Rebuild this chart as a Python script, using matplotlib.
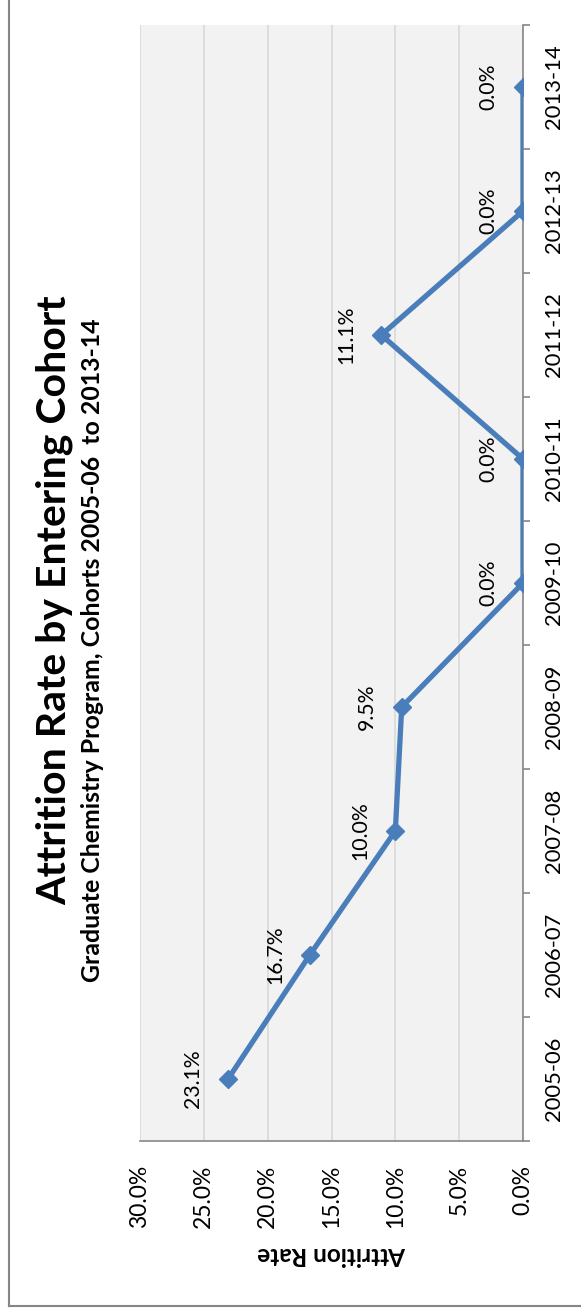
import matplotlib.pyplot as plt
from matplotlib.lines import Line2D
from matplotlib.ticker import FixedLocator

# cohort data
cohorts = ["2005-06", "2006-07", "2007-08", "2008-09", "2009-10",
           "2010-11", "2011-12", "2012-13", "2013-14"]
attrition = [23.1, 16.7, 10.0, 9.5, 0.0, 0.0, 11.1, 0.0, 0.0]
rate_ticks = [0, 5, 10, 15, 20, 25, 30]

line_blue = "#4A7EBB"
axis_gray = "#868686"
grid_gray = "#D9D9D9"

plt.rcParams['font.family'] = ['Lato', 'DejaVu Sans']

W, H = 581, 1313
fig = plt.figure(figsize=(W / 100, H / 100), dpi=100)

# chart is laid out sideways: rate runs right-to-left, cohorts bottom-to-top
left, right, top, bottom = 140, 523, 25, 1141
ax = fig.add_axes([left / W, 1 - bottom / H, (right - left) / W, (bottom - top) / H])
ax.set_facecolor("#F2F2F2")

pos = list(range(len(cohorts)))
ax.plot(attrition, pos, color=line_blue, lw=3.8, marker="D", ms=9.5,
        solid_joinstyle="miter", zorder=3)

for v, p in zip(attrition, pos):
    ax.annotate(f"{v:.1f}%", (v, p), xytext=(-25, 0), textcoords="offset points",
                rotation=90, ha="center", va="center", fontsize=15.3)

ax.set_xlim(30, 0)
ax.set_ylim(-0.5, len(cohorts) - 0.5)

ax.set_xticks(rate_ticks)
ax.set_xticklabels([f"{t:.1f}%" for t in rate_ticks], rotation=90, fontsize=16.5)
ax.tick_params(axis="x", length=0, pad=17)
ax.grid(axis="x", color=grid_gray, lw=1.2)
ax.set_axisbelow(True)

ax.yaxis.tick_right()
ax.set_yticks(pos)
ax.set_yticklabels(cohorts, rotation=90, fontsize=15.8, va="center")
ax.yaxis.set_minor_locator(FixedLocator([p - 0.5 for p in pos] + [pos[-1] + 0.5]))
ax.tick_params(axis="y", which="major", length=0, pad=15)
ax.tick_params(axis="y", which="minor", length=5, width=1.2, color=axis_gray,
               direction="out", right=True, left=False)

for s in ["top", "left"]:
    ax.spines[s].set_visible(False)
for s in ["bottom", "right"]:
    ax.spines[s].set_color(axis_gray)
    ax.spines[s].set_linewidth(1.2)

ax.set_xlabel("Attrition Rate", rotation=180, fontsize=17.5, fontweight="bold",
              va="center")
ax.xaxis.set_label_coords(0.5, -0.102)

# titles
fig.text(54 / W, 1 - 600 / H, "Attrition Rate by Entering Cohort", rotation=90,
         ha="center", va="center", fontsize=29.5, fontweight="bold")
fig.text(93 / W, 1 - 650 / H, "Graduate Chemistry Program, Cohorts 2005-06  to 2013-14",
         rotation=90, ha="center", va="center", fontsize=17.9, fontweight="bold")

# chart frame
bx, by = 8.5 / W, 1 - 1306 / H
fig.add_artist(Line2D([bx, bx], [by, 1], transform=fig.transFigure,
                      color=axis_gray, lw=1.5))
fig.add_artist(Line2D([bx, 1], [by, by], transform=fig.transFigure,
                      color=axis_gray, lw=1.5))

fig.savefig("out.png", dpi=100)
